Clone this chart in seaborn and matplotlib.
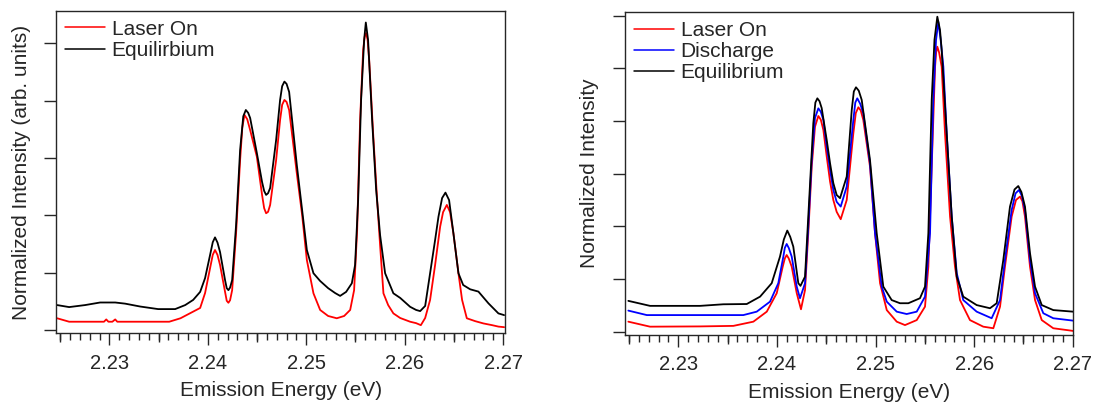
import numpy as np
import pandas as pd
import matplotlib
matplotlib.use("Agg")
import matplotlib.pyplot as plt
import seaborn as sns
from matplotlib.ticker import FixedLocator, MultipleLocator, FuncFormatter

# ---------------- data ----------------
left_laser_E = [2.22469, 2.22591, 2.22945, 2.22968, 2.22990, 2.23030, 2.23059, 2.23080, 2.23608,
                2.23722, 2.23850, 2.23922, 2.23972, 2.24023, 2.24050, 2.24073, 2.24098, 2.24124,
                2.24175, 2.24192, 2.24209, 2.24226, 2.24247, 2.24287, 2.24328, 2.24350, 2.24372,
                2.24400, 2.24430, 2.24498, 2.24551, 2.24572, 2.24592, 2.24612, 2.24633, 2.24694,
                2.24734, 2.24755, 2.24778, 2.24800, 2.24826, 2.24904, 2.24958, 2.25006, 2.25073,
                2.25141, 2.25222, 2.25310, 2.25385, 2.25446, 2.25486, 2.25517, 2.25547, 2.25578,
                2.25593, 2.25608, 2.25623, 2.25639, 2.25679, 2.25720, 2.25750, 2.25784, 2.25832,
                2.25885, 2.25954, 2.26055, 2.26116, 2.26164, 2.26208, 2.26258, 2.26309, 2.26360,
                2.26390, 2.26428, 2.26461, 2.26495, 2.26546, 2.26583, 2.26631, 2.26716, 2.26800,
                2.26888, 2.26952, 2.27010]
left_laser_I = [0.041, 0.029, 0.029, 0.037, 0.029, 0.029, 0.037, 0.029, 0.029,
                0.041, 0.064, 0.077, 0.129, 0.216, 0.262, 0.279, 0.262, 0.227,
                0.133, 0.102, 0.095, 0.104, 0.139, 0.338, 0.593, 0.705, 0.750,
                0.735, 0.697, 0.604, 0.471, 0.425, 0.407, 0.412, 0.436, 0.593,
                0.732, 0.785, 0.802, 0.795, 0.767, 0.546, 0.401, 0.244, 0.128,
                0.070, 0.049, 0.041, 0.049, 0.070, 0.139, 0.349, 0.732, 0.976,
                1.022, 1.035, 1.012, 0.942, 0.687, 0.453, 0.296, 0.128, 0.087,
                0.058, 0.042, 0.029, 0.024, 0.017, 0.042, 0.105, 0.227, 0.360,
                0.411, 0.436, 0.411, 0.337, 0.198, 0.105, 0.041, 0.031, 0.023,
                0.017, 0.012, 0.010]

left_equil_E = [2.22469, 2.22591, 2.22753, 2.22906, 2.23059, 2.23160, 2.23312, 2.23495, 2.23668,
                2.23770, 2.23851, 2.23922, 2.23972, 2.24023, 2.24050, 2.24073, 2.24098, 2.24124,
                2.24175, 2.24192, 2.24209, 2.24226, 2.24247, 2.24287, 2.24328, 2.24360, 2.24386,
                2.24410, 2.24430, 2.24498, 2.24551, 2.24572, 2.24592, 2.24612, 2.24633, 2.24694,
                2.24734, 2.24755, 2.24778, 2.24800, 2.24826, 2.24904, 2.24958, 2.25006, 2.25073,
                2.25141, 2.25222, 2.25293, 2.25344, 2.25405, 2.25463, 2.25496, 2.25527, 2.25557,
                2.25588, 2.25605, 2.25628, 2.25669, 2.25710, 2.25750, 2.25801, 2.25885, 2.25954,
                2.26055, 2.26116, 2.26157, 2.26208, 2.26258, 2.26309, 2.26343, 2.26380, 2.26414,
                2.26451, 2.26495, 2.26546, 2.26594, 2.26665, 2.26749, 2.26851, 2.26952, 2.27010]
left_equil_I = [0.087, 0.080, 0.087, 0.096, 0.096, 0.092, 0.082, 0.073, 0.073,
                0.087, 0.105, 0.133, 0.181, 0.262, 0.306, 0.323, 0.305, 0.272,
                0.174, 0.146, 0.139, 0.148, 0.174, 0.366, 0.628, 0.745, 0.767,
                0.757, 0.739, 0.617, 0.516, 0.485, 0.471, 0.477, 0.495, 0.663,
                0.802, 0.850, 0.866, 0.858, 0.830, 0.575, 0.418, 0.279, 0.198,
                0.171, 0.146, 0.129, 0.119, 0.133, 0.163, 0.227, 0.453, 0.802,
                1.011, 1.072, 1.011, 0.732, 0.488, 0.331, 0.198, 0.128, 0.112,
                0.081, 0.070, 0.066, 0.084, 0.198, 0.314, 0.395, 0.460, 0.479,
                0.453, 0.337, 0.198, 0.157, 0.142, 0.134, 0.093, 0.058, 0.052]

right_laser_E = [2.22493, 2.22713, 2.23220, 2.23558, 2.23761, 2.23897, 2.23998, 2.24059, 2.24080,
                 2.24099, 2.24120, 2.24150, 2.24201, 2.24244, 2.24285, 2.24318, 2.24353, 2.24386,
                 2.24420, 2.24445, 2.24471, 2.24505, 2.24539, 2.24572, 2.24606, 2.24647, 2.24708,
                 2.24775, 2.24800, 2.24826, 2.24850, 2.24876, 2.24944, 2.24995, 2.25046, 2.25114,
                 2.25215, 2.25299, 2.25418, 2.25502, 2.25536, 2.25570, 2.25604, 2.25615, 2.25627,
                 2.25645, 2.25671, 2.25705, 2.25756, 2.25806, 2.25857, 2.25958, 2.26093, 2.26195,
                 2.26263, 2.26313, 2.26381, 2.26425, 2.26466, 2.26490, 2.26516, 2.26567, 2.26618,
                 2.26686, 2.26803, 2.27003]
right_laser_I = [0.038, 0.019, 0.020, 0.022, 0.038, 0.076, 0.146, 0.247, 0.278,
                 0.291, 0.278, 0.247, 0.146, 0.085, 0.158, 0.374, 0.627, 0.778,
                 0.819, 0.805, 0.766, 0.665, 0.570, 0.500, 0.455, 0.427, 0.500,
                 0.753, 0.830, 0.852, 0.840, 0.804, 0.627, 0.374, 0.184, 0.082,
                 0.038, 0.025, 0.044, 0.095, 0.247, 0.627, 1.006, 1.060, 1.082,
                 1.060, 1.006, 0.753, 0.437, 0.247, 0.120, 0.044, 0.019, 0.013,
                 0.095, 0.247, 0.437, 0.500, 0.513, 0.495, 0.437, 0.247, 0.120,
                 0.044, 0.013, 0.003]

right_disch_E = [2.22493, 2.22680, 2.23220, 2.23659, 2.23795, 2.23930, 2.24014, 2.24065, 2.24080,
                 2.24099, 2.24120, 2.24150, 2.24201, 2.24234, 2.24285, 2.24318, 2.24353, 2.24386,
                 2.24420, 2.24445, 2.24471, 2.24505, 2.24539, 2.24572, 2.24606, 2.24647, 2.24708,
                 2.24775, 2.24795, 2.24815, 2.24845, 2.24876, 2.24944, 2.24995, 2.25063, 2.25114,
                 2.25215, 2.25316, 2.25418, 2.25502, 2.25553, 2.25586, 2.25614, 2.25637, 2.25661,
                 2.25688, 2.25722, 2.25773, 2.25824, 2.25890, 2.26026, 2.26178, 2.26263, 2.26313,
                 2.26381, 2.26420, 2.26455, 2.26485, 2.26516, 2.26567, 2.26618, 2.26702, 2.26803,
                 2.27003]
right_disch_I = [0.080, 0.063, 0.063, 0.063, 0.076, 0.114, 0.184, 0.285, 0.318,
                 0.333, 0.318, 0.285, 0.171, 0.127, 0.184, 0.399, 0.652, 0.811,
                 0.848, 0.835, 0.804, 0.703, 0.614, 0.538, 0.493, 0.475, 0.551,
                 0.804, 0.870, 0.886, 0.865, 0.829, 0.639, 0.374, 0.171, 0.114,
                 0.076, 0.067, 0.076, 0.133, 0.374, 0.880, 1.108, 1.177, 1.108,
                 1.006, 0.753, 0.437, 0.222, 0.120, 0.076, 0.051, 0.120, 0.272,
                 0.462, 0.525, 0.538, 0.515, 0.462, 0.272, 0.146, 0.070, 0.051,
                 0.042]

right_equil_E = [2.22493, 2.22713, 2.23220, 2.23456, 2.23694, 2.23829, 2.23947, 2.24031, 2.24070,
                 2.24105, 2.24135, 2.24166, 2.24217, 2.24239, 2.24285, 2.24318, 2.24369, 2.24390,
                 2.24410, 2.24432, 2.24454, 2.24505, 2.24539, 2.24572, 2.24606, 2.24640, 2.24708,
                 2.24759, 2.24780, 2.24802, 2.24830, 2.24860, 2.24944, 2.25012, 2.25079, 2.25164,
                 2.25248, 2.25333, 2.25451, 2.25502, 2.25536, 2.25570, 2.25598, 2.25627, 2.25654,
                 2.25671, 2.25722, 2.25773, 2.25824, 2.25890, 2.26026, 2.26161, 2.26229, 2.26296,
                 2.26364, 2.26410, 2.26448, 2.26480, 2.26516, 2.26567, 2.26618, 2.26686, 2.26803,
                 2.27003]
right_equil_I = [0.117, 0.098, 0.098, 0.104, 0.105, 0.133, 0.184, 0.285, 0.350,
                 0.384, 0.360, 0.323, 0.184, 0.174, 0.209, 0.437, 0.791, 0.870,
                 0.886, 0.875, 0.849, 0.728, 0.639, 0.564, 0.519, 0.507, 0.589,
                 0.842, 0.912, 0.928, 0.915, 0.880, 0.652, 0.374, 0.171, 0.120,
                 0.108, 0.108, 0.127, 0.171, 0.374, 0.880, 1.108, 1.196, 1.146,
                 1.070, 0.753, 0.437, 0.209, 0.133, 0.101, 0.089, 0.108, 0.272,
                 0.475, 0.540, 0.553, 0.530, 0.475, 0.298, 0.171, 0.101, 0.082,
                 0.076]

left_labels = ["Laser On", "Equilirbium"]
right_labels = ["Laser On", "Discharge", "Equilibrium"]
x_tick_values = [2.23, 2.24, 2.25, 2.26, 2.27]
x_label = "Emission Energy (eV)"
left_ylabel = "Normalized Intensity (arb. units)"
right_ylabel = "Normalized Intensity"

# ---------------- build tables ----------------
df_left = pd.concat([
    pd.DataFrame({"E": left_laser_E, "I": left_laser_I, "series": left_labels[0]}),
    pd.DataFrame({"E": left_equil_E, "I": left_equil_I, "series": left_labels[1]}),
], ignore_index=True)
df_right = pd.concat([
    pd.DataFrame({"E": right_laser_E, "I": right_laser_I, "series": right_labels[0]}),
    pd.DataFrame({"E": right_disch_E, "I": right_disch_I, "series": right_labels[1]}),
    pd.DataFrame({"E": right_equil_E, "I": right_equil_I, "series": right_labels[2]}),
], ignore_index=True)

# ---------------- style ----------------
sns.set_style("ticks")
plt.rcParams["font.family"] = ["Liberation Sans", "DejaVu Sans"]
TXT = "#262626"
plt.rcParams.update({
    "text.color": TXT, "axes.labelcolor": TXT,
    "xtick.color": TXT, "ytick.color": TXT,
    "axes.edgecolor": TXT, "axes.linewidth": 1.0,
})

fig = plt.figure(figsize=(10.99, 4.08), dpi=100)
axL = fig.add_axes([0.0510, 0.183, 0.4086, 0.790])
axR = fig.add_axes([0.5687, 0.179, 0.4079, 0.791])

LW = 1.3
sns.lineplot(data=df_left, x="E", y="I", hue="series", hue_order=left_labels,
             palette=["#ff0000", "#000000"], estimator=None, sort=False,
             linewidth=LW, ax=axL)
sns.lineplot(data=df_right, x="E", y="I", hue="series", hue_order=right_labels,
             palette=["#ff0000", "#0000ff", "#000000"], estimator=None, sort=False,
             linewidth=LW, ax=axR)


def style_axis(ax, xlim, ylim, yticks, ylabel, ylabelpad, labels):
    ax.set_xlim(*xlim)
    ax.set_ylim(*ylim)
    for s in ["top", "right", "left", "bottom"]:
        ax.spines[s].set_visible(True)
    ax.xaxis.set_major_locator(FixedLocator(x_tick_values))
    ax.xaxis.set_major_formatter(FuncFormatter(lambda v, p: f"{v:.2f}"))
    ax.xaxis.set_minor_locator(MultipleLocator(0.001))
    ax.yaxis.set_major_locator(FixedLocator(yticks))
    ax.yaxis.set_minor_locator(FixedLocator([]))
    ax.tick_params(axis="x", which="major", direction="out", length=8.6, width=1.0,
                   labelsize=14.5, pad=6, top=False)
    ax.tick_params(axis="x", which="minor", direction="out", length=5.0, width=1.0, top=False)
    ax.tick_params(axis="y", which="major", direction="out", length=8.6, width=1.0,
                   labelleft=False, right=False)
    # medium ticks at the half-way positions
    sec = ax.secondary_xaxis("bottom")
    mids = [v + 0.005 for v in [2.22] + x_tick_values[:-1]]
    sec.xaxis.set_major_locator(FixedLocator(mids))
    sec.tick_params(axis="x", which="major", direction="out", length=6.8, width=1.0,
                    labelbottom=False)
    sec.xaxis.set_minor_locator(FixedLocator([]))
    sec.spines["bottom"].set_visible(False)
    ax.set_xlabel(x_label, fontsize=15, labelpad=6)
    ax.set_ylabel(ylabel, fontsize=15, labelpad=ylabelpad)
    handles, _ = ax.get_legend_handles_labels()
    ax.legend(handles, labels, loc="upper left", bbox_to_anchor=(0.0, 1.0),
              frameon=False, fontsize=15, handlelength=1.95, handletextpad=0.3,
              labelspacing=0.1, borderaxespad=0.0, borderpad=0.42)
    for line in ax.get_legend().get_lines():
        line.set_linewidth(1.1)


style_axis(axL, (2.22458, 2.27020), (-0.0115, 1.112), [0, 0.2, 0.4, 0.6, 0.8, 1.0],
           left_ylabel, 9.5, left_labels)
style_axis(axR, (2.22459, 2.27006), (-0.0125, 1.2129), [0, 0.2, 0.4, 0.6, 0.8, 1.0, 1.2],
           right_ylabel, 10, right_labels)

fig.savefig("out.png", dpi=100)
